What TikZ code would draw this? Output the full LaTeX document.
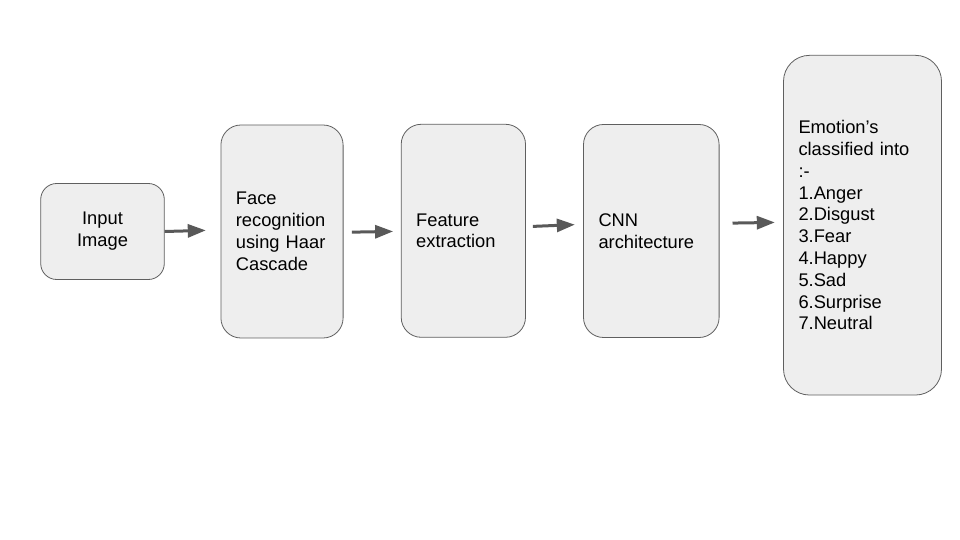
\documentclass[tikz,border=0pt]{standalone}
\usepackage{fontspec}
\setmainfont{Liberation Sans}
\usetikzlibrary{positioning, arrows.meta}
\definecolor{boxfill}{HTML}{EEEEEE}
\definecolor{boxline}{HTML}{5F5F5F}
\definecolor{arrowgray}{HTML}{595959}
\tikzset{
  stage/.style={draw=boxline, line width=0.8pt, fill=boxfill, rounded corners=20pt,
    align=left, inner xsep=15pt, inner ysep=0pt, minimum height=213pt,
    font=\fontsize{18.3}{21.8}\selectfont}
}

\begin{document}
\begin{tikzpicture}[x=1pt, y=1pt, >={Triangle[length=18pt, width=13pt]}, node distance = 56pt]
            \useasboundingbox (0,0) rectangle (960,540);
            \node[stage, align=center, text width=93.6pt, minimum height=96pt, rounded corners=16pt] (input) at (102.5,308.5) {Input\\Image};
            \node[stage, text width=92.2pt] (face) [right = 55.8pt of input] {Face\\recognition\\using Haar\\Cascade};
            \node[stage, text width=94.3pt] (feature) [right = 57.3pt of face, yshift=0.7pt] {Feature\\extraction};
            \node[stage, text width=105.6pt] (cnn) [right = 57.2pt of feature, yshift=-0.2pt] {CNN\\architecture};
            \node[stage, text width=128pt, minimum height=339.7pt, rounded corners=26pt] (emotion) [right = 63.6pt of cnn, yshift=5.8pt]
              {Emotion’s\\classified into\\:-\\1.Anger\\2.Disgust\\3.Fear\\4.Happy\\5.Sad\\6.Surprise\\7.Neutral};

            \path[->, color=arrowgray, line width=3pt]
              (input.east) edge [shorten >=14.7pt] ([yshift=1.5pt]face.west)
              ([yshift=-0.8pt]face.east) edge [shorten <=8.4pt, shorten >=7.7pt] ([yshift=-0.5pt]feature.west)
              ([yshift=4.1pt]feature.east) edge [shorten <=7pt, shorten >=8.3pt] ([yshift=6.7pt]cnn.west)
              ([yshift=7.7pt]cnn.east) edge [shorten <=13pt, shorten >=8.3pt] ([yshift=2.9pt]emotion.west)
            ;
          \end{tikzpicture}
\end{document}
